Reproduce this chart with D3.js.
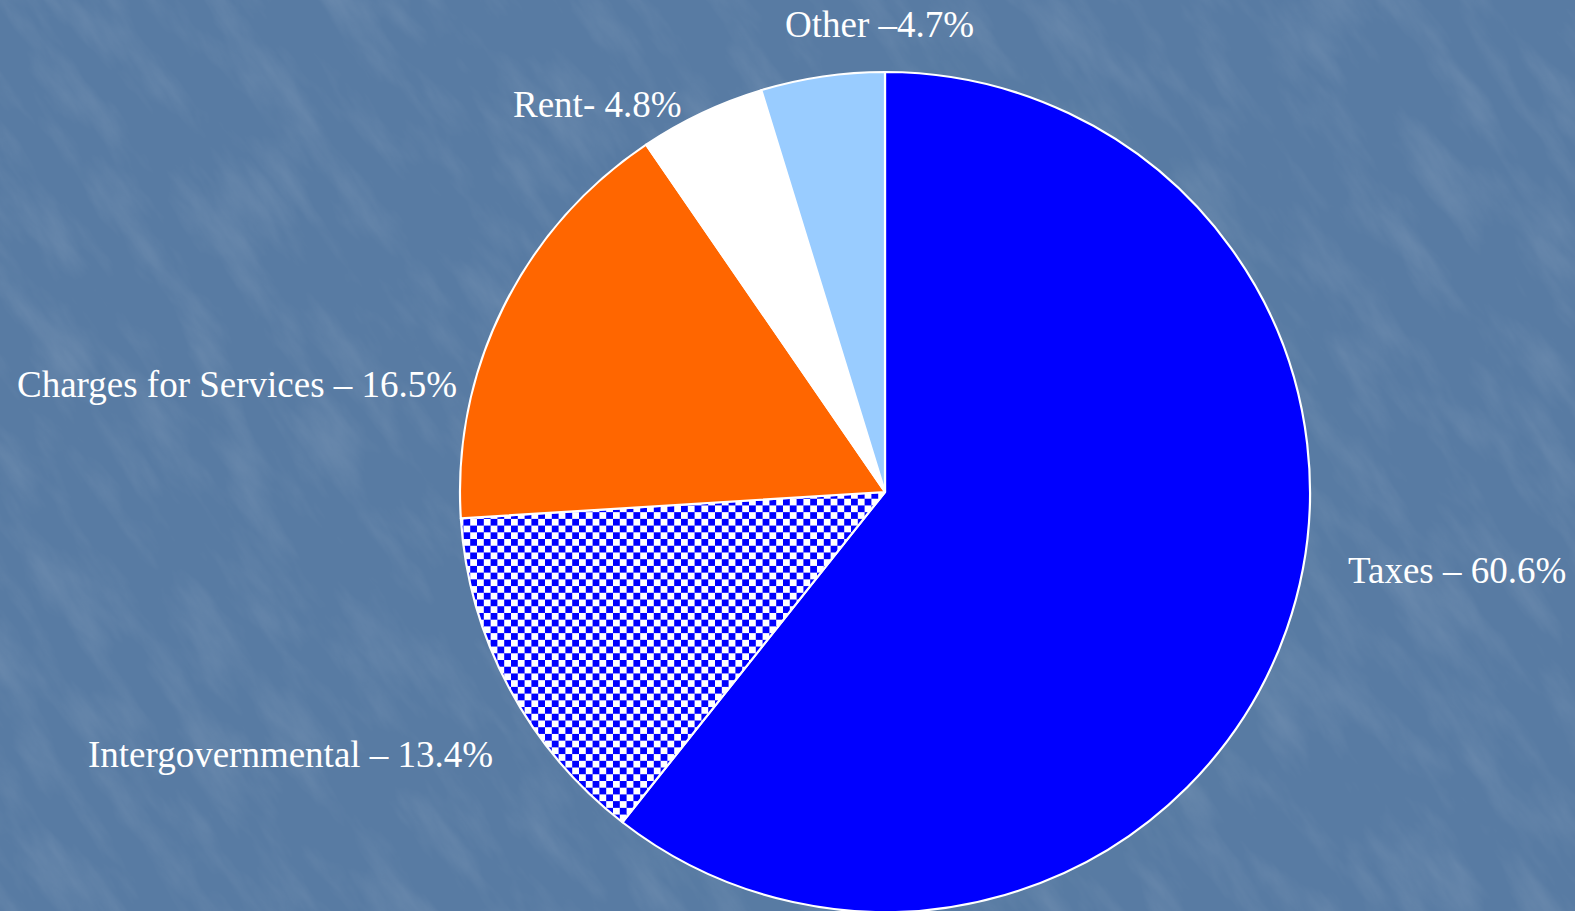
<!DOCTYPE html>
<html>
<head>
<meta charset="utf-8">
<script src="https://cdn.jsdelivr.net/npm/d3@7"></script>
<style>
  html, body { margin: 0; padding: 0; overflow: hidden; background: #5b7ea5; }
</style>
</head>
<body>
<svg id="chart"></svg>
<script>
const width = 1575, height = 911;

// revenue sources, share of total (%)
const categories = ["Taxes", "Intergovernmental", "Charges for Services", "Rent", "Other"];
const shares = [60.6, 13.4, 16.5, 4.8, 4.7];
const labels = ["Taxes – 60.6%", "Intergovernmental – 13.4%", "Charges for Services – 16.5%", "Rent- 4.8%", "Other –4.7%"];

// where each label sits (text start, baseline)
const labelPos = [[1348, 583], [88, 767], [17, 397], [513, 117], [785, 37]];

const colors = ["#0000ff", "url(#checker)", "#ff6600", "#ffffff", "#99ccff"];

const svg = d3.select("#chart")
    .attr("width", width)
    .attr("height", height);

const defs = svg.append("defs");

// blue / white checkerboard
const cell = 6.8;
const pat = defs.append("pattern")
    .attr("id", "checker")
    .attr("patternUnits", "userSpaceOnUse")
    .attr("width", cell * 2)
    .attr("height", cell * 2);
pat.append("rect").attr("width", cell * 2).attr("height", cell * 2).attr("fill", "#ffffff");
pat.append("rect").attr("width", cell).attr("height", cell).attr("fill", "#0000ff");
pat.append("rect").attr("x", cell).attr("y", cell).attr("width", cell).attr("height", cell).attr("fill", "#0000ff");

// mottled, streaky texture for the backdrop
const filt = defs.append("filter")
    .attr("id", "streaks")
    .attr("x", 0).attr("y", 0).attr("width", 1).attr("height", 1);
filt.append("feTurbulence")
    .attr("type", "fractalNoise")
    .attr("baseFrequency", "0.03 0.009")
    .attr("numOctaves", 5)
    .attr("seed", 3);
filt.append("feColorMatrix")
    .attr("type", "matrix")
    .attr("values", "0 0 0 0 1  0 0 0 0 1  0 0 0 0 1  1.6 0 0 0 -0.7");

svg.append("rect")
    .attr("width", width)
    .attr("height", height)
    .attr("fill", "#587ba3");

svg.append("g")
    .attr("transform", `rotate(-35 ${width / 2} ${height / 2})`)
  .append("rect")
    .attr("x", -400).attr("y", -600)
    .attr("width", width + 800).attr("height", height + 1200)
    .attr("filter", "url(#streaks)")
    .attr("opacity", 0.13);

// pie
const cx = 885, cy = 492, rx = 425, ry = 420;

const pie = d3.pie().sort(null).value(d => d);
const arc = d3.arc().innerRadius(0).outerRadius(rx);

const g = svg.append("g")
    .attr("transform", `translate(${cx},${cy}) scale(1,${ry / rx})`);

g.selectAll("path")
    .data(pie(shares))
    .join("path")
    .attr("d", arc)
    .attr("fill", (d, i) => colors[i])
    .attr("stroke", "#ffffff")
    .attr("stroke-width", 2.2)
    .attr("stroke-linejoin", "round");

svg.selectAll("text.lbl")
    .data(labels)
    .join("text")
    .attr("class", "lbl")
    .attr("x", (d, i) => labelPos[i][0])
    .attr("y", (d, i) => labelPos[i][1])
    .attr("fill", "#ffffff")
    .style("font-family", "'Liberation Serif', 'Times New Roman', serif")
    .style("font-size", "37px")
    .text(d => d);
</script>
</body>
</html>
